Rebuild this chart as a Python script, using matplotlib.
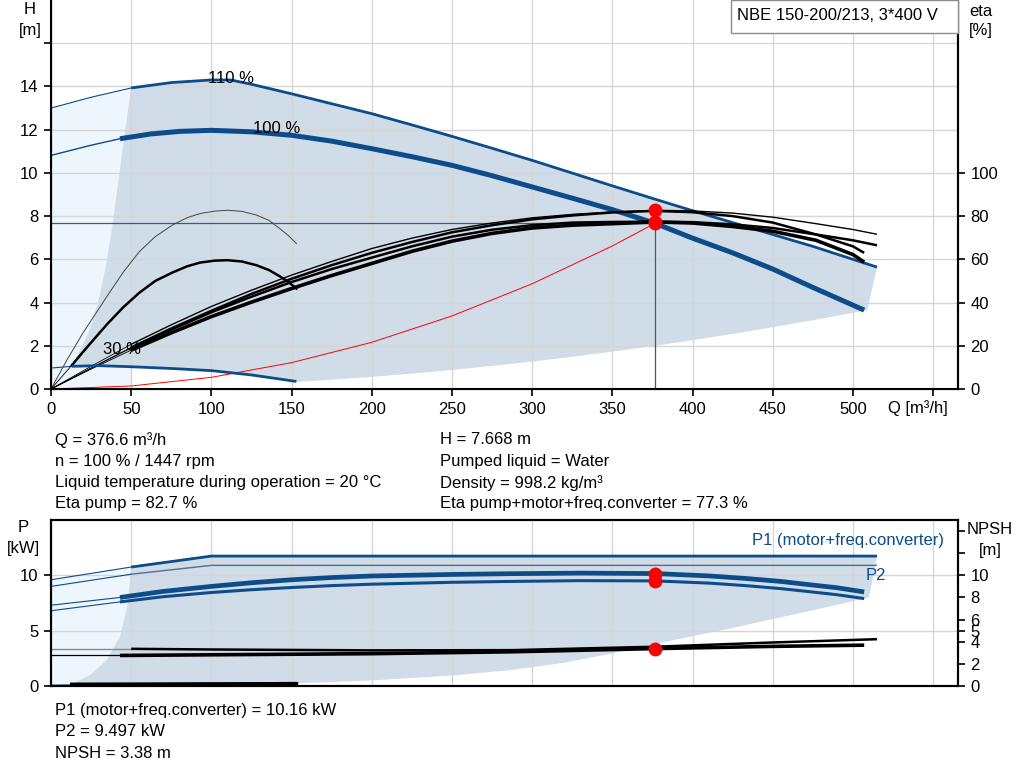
import matplotlib.pyplot as plt

plt.rcParams['font.family'] = ['Liberation Sans', 'DejaVu Sans']
plt.rcParams['font.size'] = 12

BLUE = '#0c4c8a'
DARK_FILL = '#d0dce8'
LIGHT_FILL = '#edf5fd'
GRID = '#d6d6d6'

# operating point
Q_OP, H_OP = 376.6, 7.668
ETA_PUMP, ETA_TOT = 8.27, 7.73        # eta / 10 (drawn on H scale)
P1_OP, P2_OP, NPSH_OP = 10.16, 9.497, 3.38

# ---- QH curves ----
q110 = [0, 25, 50, 75, 100, 112, 125, 150, 175, 200, 225, 250, 275, 300, 325, 350,
        375, 400, 425, 450, 475, 500, 515]
h110 = [13.0, 13.5, 13.93, 14.18, 14.3, 14.3, 14.1, 13.66, 13.2, 12.74, 12.22, 11.69,
        11.14, 10.58, 9.99, 9.4, 8.82, 8.25, 7.7, 7.15, 6.6, 6.0, 5.64]

q100 = [0, 25, 43, 62, 80, 100, 125, 150, 175, 200, 225, 250, 275, 300, 325, 350,
        376.6, 400, 425, 450, 475, 507]
h100 = [10.81, 11.28, 11.58, 11.8, 11.92, 11.97, 11.9, 11.74, 11.47, 11.12, 10.75, 10.35,
        9.87, 9.35, 8.83, 8.3, 7.668, 6.98, 6.3, 5.55, 4.7, 3.65]

q30 = [0, 13, 30, 50, 75, 100, 125, 153]
h30 = [0.97, 1.05, 1.08, 1.03, 0.95, 0.85, 0.65, 0.35]

# system curve
q_sys = [0, 50, 100, 150, 200, 250, 300, 350, 376.6]
h_sys = [0, 0.14, 0.54, 1.22, 2.16, 3.38, 4.87, 6.62, 7.668]

# operating range envelope (top)
q_low = [509, 480, 450, 425, 400, 375, 350, 325, 300, 275, 250, 225, 200, 175, 153]
h_low = [3.65, 3.25, 2.86, 2.55, 2.26, 1.98, 1.73, 1.49, 1.27, 1.07, 0.88, 0.71, 0.56, 0.43, 0.33]
q_left = [13, 19, 25, 30, 34, 38, 42, 46, 50]
h_left = [1.1, 1.9, 2.9, 4.2, 5.6, 7.4, 9.6, 11.8, 13.93]

# ---- eta curves (eta/10) ----
q_eta = [0, 25, 50, 75, 100, 125, 150, 175, 200, 225, 250, 275, 300, 325, 350, 376.6,
         400, 425, 450, 477, 500]
eta_pump_110 = [0, 1.05, 2.07, 2.97, 3.82, 4.57, 5.27, 5.9, 6.5, 6.98, 7.38, 7.68, 7.92,
                8.08, 8.19, 8.27, 8.24, 8.14, 7.95, 7.65, 7.38, 7.16]
eta_pump_100 = [0, 0.97, 1.92, 2.8, 3.62, 4.4, 5.1, 5.73, 6.3, 6.8, 7.25, 7.58, 7.85,
                8.03, 8.17, 8.24, 8.18, 8.0, 7.7, 7.15, 6.6, 6.3]
eta_tot_110 = [0, 0.96, 1.9, 2.75, 3.55, 4.27, 4.95, 5.55, 6.08, 6.6, 7.05, 7.37, 7.58,
               7.7, 7.73, 7.74, 7.72, 7.62, 7.45, 7.15, 6.88, 6.65]
eta_tot_100 = [0, 0.92, 1.8, 2.6, 3.35, 4.02, 4.65, 5.25, 5.81, 6.37, 6.84, 7.2, 7.45,
               7.58, 7.65, 7.73, 7.68, 7.52, 7.3, 6.88, 6.22, 5.87]
q_end_110, q_end_100 = 515, 507

q30p = [0, 10, 20, 35, 45, 55, 65, 76, 85, 93, 102, 110, 119, 128, 136, 143, 148, 153]
eta30_pump = [0, 1.35, 2.6, 4.3, 5.4, 6.35, 7.05, 7.6, 7.93, 8.12, 8.23, 8.27, 8.22,
              8.05, 7.8, 7.4, 7.1, 6.73]
q30t = [13, 20, 25, 35, 45, 55, 65, 76, 85, 93, 102, 110, 119, 128, 136, 143, 148, 153]
eta30_tot = [1.1, 1.72, 2.15, 3.0, 3.78, 4.45, 5.0, 5.4, 5.68, 5.85, 5.94, 5.96, 5.9,
             5.73, 5.5, 5.2, 4.95, 4.65]

# ---- power / NPSH ----
qp110 = [0, 50, 100, 515]
p1_110 = [9.6, 10.75, 11.74, 11.74]
p2_110 = [9.0, 10.1, 10.9, 10.9]
qp100 = [0, 43, 70, 100, 125, 150, 175, 200, 250, 287, 330, 376.6, 410, 433, 455, 470, 490, 507]
p1_100 = [7.3, 8.0, 8.55, 9.0, 9.33, 9.6, 9.8, 9.94, 10.08, 10.15, 10.2, 10.16, 9.95,
          9.72, 9.45, 9.2, 8.88, 8.5]
p2_100 = [6.8, 7.6, 8.07, 8.45, 8.7, 8.9, 9.07, 9.2, 9.37, 9.45, 9.52, 9.497, 9.3,
          9.07, 8.8, 8.57, 8.25, 7.9]
qp30 = [0, 13, 153]
p_30 = [0.08, 0.1, 0.28]
npsh30 = [0.12, 0.15, 0.2]

qn110 = [0, 50, 100, 200, 287, 376.6, 449.5, 515]
npsh110 = [3.36, 3.36, 3.3, 3.22, 3.24, 3.55, 3.93, 4.23]
qn100 = [0, 43, 100, 200, 287, 376.6, 449.5, 507]
npsh100 = [2.76, 2.76, 2.82, 2.92, 3.09, 3.38, 3.58, 3.69]

qp_low = [510, 480, 450, 425, 400, 376.6, 350, 320, 287, 250, 200, 153]
p_low = [8.0, 7.0, 6.05, 5.25, 4.5, 3.8, 2.95, 2.1, 1.44, 0.95, 0.5, 0.25]
qp_left = [13.9, 24.3, 34.7, 43, 47.6, 50]
p_left = [0.24, 0.99, 2.34, 4.44, 7.15, 10.75]

fig = plt.figure(figsize=(10.24, 7.81), dpi=100)
W, H = 1024, 781


def fx(x):
    return x / W


def fy(y):
    return 1 - y / H


def split_plot(ax, q, v, qs, lw_thin, lw_thick, color, thin_color=None):
    i = q.index(qs)
    ax.plot(q[:i + 1], v[:i + 1], color=thin_color or color, lw=lw_thin, zorder=2)
    ax.plot(q[i:], v[i:], color=color, lw=lw_thick, zorder=2.1, solid_capstyle='butt')


XMAX = 565.5
# ================= top chart =================
ax = fig.add_axes([fx(51), fy(389), fx(907), 389 / H])
ax.set_xlim(0, XMAX)
ax.set_ylim(0, 18)
ax.set_axisbelow(True)
ax.grid(True, color=GRID, lw=1)
ax.set_xticks(range(0, 551, 50))
ax.set_xticklabels([str(v) for v in range(0, 501, 50)] + [''])
ax.set_yticks(range(0, 17, 2))
ax.set_yticklabels([str(v) for v in range(0, 15, 2)] + [''])
ax.tick_params(length=5, width=1.2, pad=4)
ax.spines['top'].set_visible(False)
for s in ['left', 'right', 'bottom']:
    ax.spines[s].set_linewidth(1.5)

# fills
ax.fill_between(q110[:3], 0, h110[:3], color=LIGHT_FILL, lw=0, zorder=0.2)
i50 = q110.index(50)
poly_q = q110[i50:] + q_low + q30[1:][::-1] + q_left
poly_h = h110[i50:] + h_low + h30[1:][::-1] + h_left
ax.fill(poly_q, poly_h, color=DARK_FILL, lw=0, zorder=0.3)

# QH curves
split_plot(ax, q110, h110, 50, 0.8, 2.0, BLUE)
split_plot(ax, q100, h100, 43, 1.0, 3.6, BLUE)
split_plot(ax, q30, h30, 13, 0.8, 2.0, BLUE)
ax.plot(q_sys, h_sys, color='red', lw=0.7, zorder=2)

# eta curves
q_e110 = q_eta + [q_end_110]
q_e100 = q_eta + [q_end_100]
split_plot(ax, q_e110, eta_pump_110, 50, 0.6, 1.0, 'black')
split_plot(ax, q_e100, eta_pump_100, 50, 0.6, 1.8, 'black')
split_plot(ax, q_e110, eta_tot_110, 50, 0.6, 1.8, 'black')
split_plot(ax, q_e100, eta_tot_100, 50, 0.6, 2.6, 'black')
ax.plot(q30p, eta30_pump, color='#444444', lw=0.7, zorder=2)
ax.plot([0, q30t[0]], [0, eta30_tot[0]], color='black', lw=0.6, zorder=2)
ax.plot(q30t, eta30_tot, color='black', lw=1.8, zorder=2)

# operating point
ax.plot([0, Q_OP], [H_OP, H_OP], color='#555555', lw=0.9, zorder=1.8)
ax.plot([Q_OP, Q_OP], [0, H_OP], color='#555555', lw=0.9, zorder=1.8)
ax.plot([Q_OP, Q_OP, Q_OP], [ETA_PUMP, ETA_TOT, H_OP], 'o', color='red',
        ms=9, mec='red', zorder=5)

ax.text(98, 14.37, '110 %', va='center', zorder=6)
ax.text(126, 12.06, '100 %', va='center', zorder=6)
ax.text(32.4, 1.85, '30 %', va='center', zorder=6)

ax2 = ax.twinx()
ax2.set_ylim(0, 180)
ax2.set_yticks(range(0, 101, 20))
ax2.tick_params(length=5, width=1.2, pad=4)
ax2.spines['top'].set_visible(False)
ax2.spines['right'].set_linewidth(1.5)

# ================= bottom chart =================
bx = fig.add_axes([fx(51), fy(686), fx(907), (686 - 520) / H])
bx.set_xlim(0, XMAX)
bx.set_ylim(0, 15)
bx.set_axisbelow(True)
bx.grid(True, color=GRID, lw=1)
bx.set_xticks(range(0, 551, 50))
bx.tick_params(axis='x', length=0, labelbottom=False)
bx.set_yticks([0, 5, 10])
bx.tick_params(axis='y', length=5, width=1.2, pad=4)
for s in bx.spines.values():
    s.set_linewidth(1.5)

bx.fill_between(qp110[:2], 0, p1_110[:2], color=LIGHT_FILL, lw=0, zorder=0.2)
poly_q = qp110[1:] + qp_low + qp_left
poly_p = p1_110[1:] + p_low + p_left
bx.fill(poly_q, poly_p, color=DARK_FILL, lw=0, zorder=0.3)

split_plot(bx, qp110, p1_110, 50, 0.8, 2.0, BLUE)
split_plot(bx, qp110, p2_110, 50, 0.8, 1.0, '#4f6f90', thin_color=BLUE)
split_plot(bx, qp100, p1_100, 43, 0.8, 3.4, BLUE)
split_plot(bx, qp100, p2_100, 43, 0.8, 2.2, BLUE)
split_plot(bx, qn110, npsh110, 50, 1.0, 1.8, 'black', thin_color='#888888')
split_plot(bx, qn100, npsh100, 43, 0.9, 2.6, 'black')
split_plot(bx, qp30, p_30, 13, 0.8, 1.6, BLUE)
bx.plot(qp30[1:], npsh30[1:], color='black', lw=2.6, zorder=2.2)

bx.plot([Q_OP, Q_OP, Q_OP], [P1_OP, P2_OP, NPSH_OP], 'o', color='red',
        ms=9, mec='red', zorder=5)

bx2 = bx.twinx()
bx2.set_ylim(0, 15)
bx2.set_yticks([0, 2, 4, 5, 6, 8, 10, 12, 14])
bx2.set_yticklabels(['0', '2', '4', '5', '6', '8', '10', '', ''])
bx2.tick_params(length=5, width=1.2, pad=4)
for s in bx2.spines.values():
    s.set_linewidth(1.5)

# ================= texts =================
fig.text(fx(30), fy(10), 'H', ha='center', va='center')
fig.text(fx(30), fy(30), '[m]', ha='center', va='center')
fig.text(fx(981), fy(11), 'eta', ha='center', va='center')
fig.text(fx(981), fy(30), '[%]', ha='center', va='center')
fig.text(fx(888), fy(408), 'Q [m³/h]', ha='left', va='center')
fig.text(fx(23), fy(528), 'P', ha='center', va='center')
fig.text(fx(23), fy(549), '[kW]', ha='center', va='center')
fig.text(fx(967), fy(530), 'NPSH', ha='left', va='center')
fig.text(fx(990), fy(551), '[m]', ha='center', va='center')
fig.text(fx(752), fy(540), 'P1 (motor+freq.converter)', color=BLUE, ha='left', va='center')
fig.text(fx(866), fy(575), 'P2', color=BLUE, ha='left', va='center')

fig.patches.append(plt.Rectangle((fx(731), fy(33)), fx(227), 33 / H, transform=fig.transFigure,
                                 facecolor='white', edgecolor='#8c8c8c', lw=1, zorder=10))
fig.text(fx(737), fy(15), 'NBE 150-200/213, 3*400 V', ha='left', va='center', zorder=11)

left_info = ['Q = 376.6 m³/h', 'n = 100 % / 1447 rpm',
             'Liquid temperature during operation = 20 °C', 'Eta pump = 82.7 %']
right_info = ['H = 7.668 m', 'Pumped liquid = Water', 'Density = 998.2 kg/m³',
              'Eta pump+motor+freq.converter = 77.3 %']
for i, (l, r) in enumerate(zip(left_info, right_info)):
    yy = 440 + i * 21.3
    fig.text(fx(55), fy(yy), l, ha='left', va='center')
    fig.text(fx(440), fy(yy), r, ha='left', va='center')

bottom_info = ['P1 (motor+freq.converter) = 10.16 kW', 'P2 = 9.497 kW', 'NPSH = 3.38 m']
for i, t in enumerate(bottom_info):
    fig.text(fx(55), fy(711 + i * 21), t, ha='left', va='center')

fig.savefig('out.png', dpi=100)
